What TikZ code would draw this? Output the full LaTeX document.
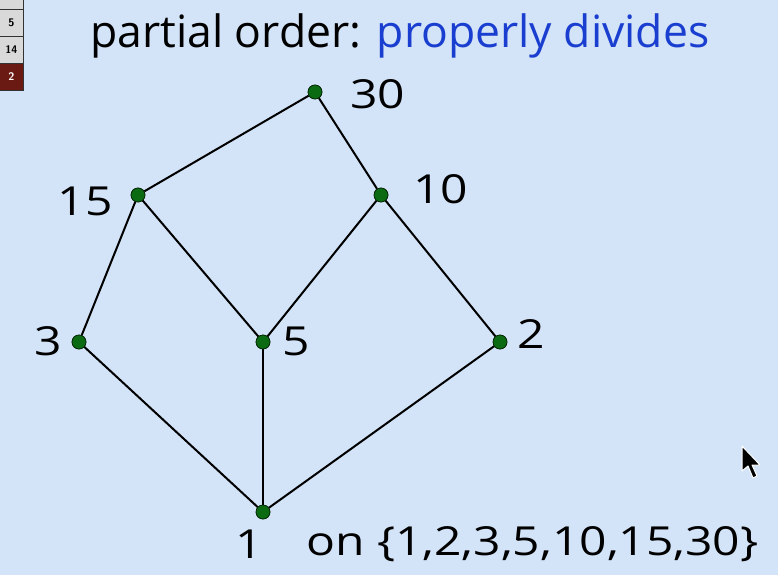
\documentclass[tikz,border=0pt]{standalone}
\usepackage{fontspec}
\setmainfont{Open Sans}
\definecolor{bg}{HTML}{D4E4F8}
\definecolor{dotgreen}{HTML}{0B6B12}
\definecolor{titleblue}{HTML}{1A3FD0}
\definecolor{boxgray}{HTML}{D9D9D9}
\definecolor{boxred}{HTML}{6A1A12}
\begin{document}
\begin{tikzpicture}[x=1pt,y=-1pt,
  vtx/.style={circle,fill=dotgreen,draw=black!70!dotgreen,line width=0.6pt,minimum size=14pt,inner sep=0pt},
  edge/.style={line width=2pt,black},
  lbl/.style={font=\fontsize{40}{44}\selectfont,inner sep=0pt},
  tab/.style={draw=black!80,line width=0.8pt,fill=boxgray,minimum width=24pt,minimum height=27pt,inner sep=0pt,font=\sffamily\bfseries\fontsize{11}{12}\selectfont}]
\fill[bg] (0,0) rectangle (778,575);
\useasboundingbox (0,0) rectangle (778,575);
% side tabs
\node[tab,minimum height=10pt,anchor=south west] (t0) at (-1,10) {};
\node[tab,anchor=north west] (t1) at (-1,9) {5};
\node[tab,anchor=north west] (t2) at (-1,36) {14};
\node[tab,anchor=north west,fill=boxred,text=white] (t3) at (-1,63) {2};
% title
\node[anchor=base west,font=\fontsize{44.5}{48}\selectfont,inner sep=0pt] (title) at (90,48) {partial order: \textcolor{titleblue}{properly divides}};
% vertices
\node[vtx] (n30) at (315,92) {};
\node[vtx] (n15) at (138,195) {};
\node[vtx] (n10) at (381,195) {};
\node[vtx] (n3) at (79,342) {};
\node[vtx] (n5) at (263,342) {};
\node[vtx] (n2) at (500,342) {};
\node[vtx] (n1) at (263,512) {};
\draw[edge] (n30) -- (n15);
\draw[edge] (n30) -- (n10);
\draw[edge] (n15) -- (n3);
\draw[edge] (n15) -- (n5);
\draw[edge] (n10) -- (n5);
\draw[edge] (n10) -- (n2);
\draw[edge] (n3) -- (n1);
\draw[edge] (n5) -- (n1);
\draw[edge] (n2) -- (n1);
\foreach \n in {n30,n15,n10,n3,n5,n2,n1} \node[vtx] at (\n) {};
% labels
\node[lbl,anchor=west] (l30) at (350,94) {\scalebox{1.2}[1]{30}};
\node[lbl,anchor=east] (l15) at (113,201) {\scalebox{1.2}[1]{15}};
\node[lbl,anchor=west] (l10) at (413,189) {\scalebox{1.2}[1]{10}};
\node[lbl,anchor=east] (l3) at (62,341) {\scalebox{1.2}[1]{3}};
\node[lbl,anchor=west] (l5) at (282,341) {\scalebox{1.2}[1]{5}};
\node[lbl,anchor=west] (l2) at (517,334) {\scalebox{1.2}[1]{2}};
\node[lbl] (l1) at (249,544) {\scalebox{1.2}[1]{1}};
\node[lbl,anchor=west] (on) at (306,544) {\scalebox{1.2}[1]{on \{1,2,3,5,10,15,30\}}};
% cursor
\draw[fill=black,draw=white,line width=1pt,line join=round] (742,446) -- (742,471) -- (748,466) -- (753,478) -- (757,476) -- (752,465) -- (760,465) -- cycle;
\end{tikzpicture}
\end{document}
